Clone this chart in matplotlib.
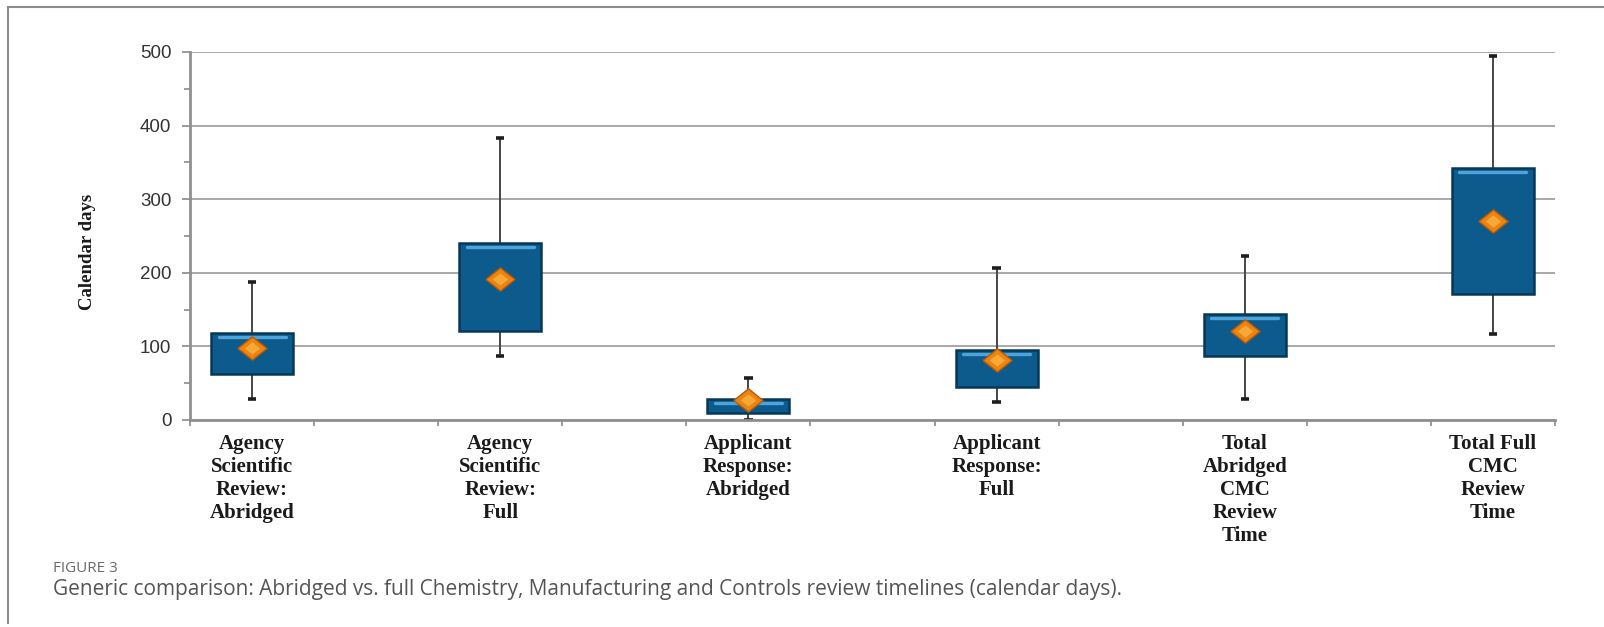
import matplotlib
matplotlib.use("Agg")
import matplotlib.pyplot as plt
import matplotlib.transforms as mtransforms
from matplotlib.patches import Rectangle
from matplotlib.lines import Line2D
import numpy as np

# Review timeline summary (calendar days)
categories = [
    "Agency\nScientific\nReview:\nAbridged",
    "Agency\nScientific\nReview:\nFull",
    "Applicant\nResponse:\nAbridged",
    "Applicant\nResponse:\nFull",
    "Total\nAbridged\nCMC\nReview\nTime",
    "Total Full\nCMC\nReview\nTime",
]
whisker_low = [28, 87, 0, 24, 28, 117]
q1 = [63, 121, 10, 45, 87, 171]
q3 = [118, 240, 28, 95, 144, 342]
whisker_high = [188, 383, 57, 206, 223, 495]
mean_vals = [98, 191, 27, 81, 121, 271]
y_ticks = [0, 100, 200, 300, 400, 500]

W, H, DPI = 1604, 627, 100
fig = plt.figure(figsize=(W / DPI, H / DPI), dpi=DPI)
ax = fig.add_axes([190 / W, (H - 420) / H, 1365 / W, 368 / H])

x = np.arange(len(categories))
box_w = 0.33

# whiskers behind the boxes
for xi, lo, hi in zip(x, whisker_low, whisker_high):
    ax.plot([xi, xi], [lo, hi], color="#454545", lw=1.4, zorder=2, solid_capstyle="butt")
    for yv in (lo, hi):
        ax.plot([xi - 0.017, xi + 0.017], [yv, yv], color="#1e1e1e", lw=2.6, zorder=2,
                solid_capstyle="butt")

# bevelled boxes
hl = mtransforms.offset_copy(ax.transData, fig=fig, x=0, y=-4, units="dots")
for xi, a, b in zip(x, q1, q3):
    ax.add_patch(Rectangle((xi - box_w / 2, a), box_w, b - a, facecolor="#0d5b8c",
                           edgecolor="#063858", lw=1.8, zorder=3))
    ax.plot([xi - box_w / 2 + 0.03, xi + box_w / 2 - 0.03], [b, b], color="#4ea4d8",
            lw=2.4, zorder=4, transform=hl, solid_capstyle="round")

# mean diamonds
diamond = [(-1, 0), (0, 0.8), (1, 0), (0, -0.8), (-1, 0)]
ax.plot(x, mean_vals, linestyle="none", marker=diamond, markersize=21,
        markerfacecolor="#ec8412", markeredgecolor="#b45a08", markeredgewidth=1.0, zorder=5)
ax.plot(x, mean_vals, linestyle="none", marker=diamond, markersize=11,
        markerfacecolor="#f8b040", markeredgewidth=0, alpha=0.85, zorder=6)

ax.set_xlim(-0.25, 5.25)
ax.set_ylim(0, 500)
ax.set_yticks(y_ticks)
ax.set_yticks(np.arange(50, 500, 100), minor=True)
ax.set_xticks(x)
ax.set_xticks(np.arange(-0.25, 5.3, 0.5), minor=True)
ax.set_xticklabels(categories, fontfamily="Liberation Serif", fontweight="bold",
                   fontsize=15, linespacing=1.2, color="#1a1a1a")
ax.set_yticklabels([str(t) for t in y_ticks], fontfamily="Liberation Sans",
                   fontsize=13.5, color="#333333")

ax.tick_params(axis="x", which="major", length=0, pad=10)
ax.tick_params(axis="x", which="minor", length=4, width=1.2, color="#8a8a8a", direction="out")
ax.tick_params(axis="y", which="major", length=6, width=1.2, color="#8a8a8a", pad=7.5)
ax.tick_params(axis="y", which="minor", length=4, width=1.2, color="#8a8a8a")

ax.yaxis.grid(True, color="#9a9a9a", lw=1.2, zorder=1)
ax.set_axisbelow(True)
for s in ("top", "right"):
    ax.spines[s].set_visible(False)
for s in ("left", "bottom"):
    ax.spines[s].set_color("#8f8f8f")
    ax.spines[s].set_linewidth(2)

ax.set_ylabel("Calendar days", fontfamily="Liberation Serif", fontweight="bold",
              fontsize=13.5, color="#1a1a1a")
ax.yaxis.set_label_coords(-0.0690, 0.457)

# page frame (top and left edges)
fig.add_artist(Line2D([8 / W, 1], [1 - 7 / H, 1 - 7 / H], transform=fig.transFigure,
                      color="#8c8c8c", lw=1.5))
fig.add_artist(Line2D([8 / W, 8 / W], [1 - 7 / H, 1 - 623 / H], transform=fig.transFigure,
                      color="#8c8c8c", lw=1.5))

fig.text(53 / W, 1 - 568 / H, "FIGURE 3", fontfamily="Open Sans", fontsize=11,
         color="#6a6a6a", va="center", ha="left")
fig.text(53 / W, 1 - 589 / H,
         "Generic comparison: Abridged vs. full Chemistry, Manufacturing and Controls "
         "review timelines (calendar days).",
         fontfamily="Open Sans", fontsize=15, color="#555555", va="center", ha="left")

fig.savefig("out.png", dpi=DPI, facecolor="white")
